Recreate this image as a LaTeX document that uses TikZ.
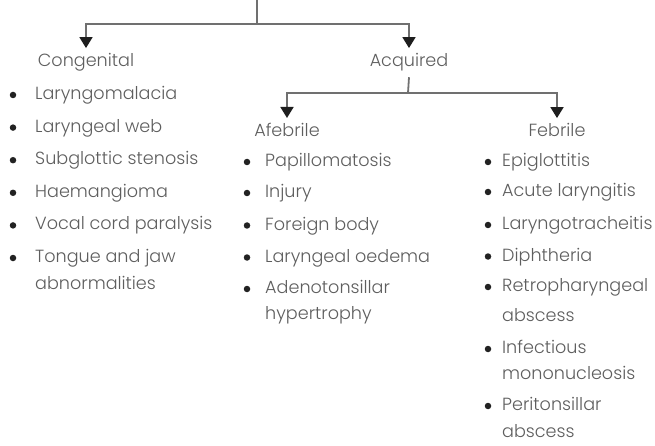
\documentclass[tikz,border=0pt]{standalone}
\usepackage{fontspec}
\setmainfont{Poppins Light}
\usetikzlibrary{arrows.meta}
\definecolor{txt}{HTML}{5E5E5E}
\definecolor{linec}{HTML}{707070}
\definecolor{headc}{HTML}{1E1E1E}
\definecolor{bulc}{HTML}{222222}
\tikzset{
  lbl/.style={inner sep=0pt, text=txt, font=\fontsize{17.6}{20}\selectfont},
  head/.style={lbl, anchor=base},
  entry/.style={lbl, anchor=base west},
  bul/.style={circle, fill=bulc, inner sep=0pt, minimum size=6.5pt},
  conn/.style={draw=linec, line width=1.8pt},
  arr/.style={conn, -{Triangle[width=13pt,length=11pt,color=headc]}, shorten >=5pt}
}
% #1 name, #2 bullet x, #3 text x, #4 x-height centre y, #5 text
\newcommand{\bitem}[5]{%
  \node[bul] (#1b) at (#2,#4) {};
  \node[entry] (#1) at (#3,#4+4.5) {#5};}
\newcommand{\contline}[4]{\node[entry] (#1) at (#2,#3+4.5) {#4};}
\begin{document}
\begin{tikzpicture}[x=1pt,y=-1pt]
\useasboundingbox (0,0) rectangle (655,446);
% headings
\node[head] (cong) at (86,66.5) {Congenital};
\node[head] (acq) at (409,66.5) {Acquired};
\node[head] (afeb) at (287,136.5) {Afebrile};
\node[head] (feb) at (557,136.5) {Febrile};
% connectors
\coordinate (top) at (257,0);
\coordinate (j1) at (257,24);
\coordinate (j2) at (408,93);
\draw[conn] (top) -- (j1);
\draw[arr] (j1) -| (cong.north);
\draw[arr] (j1) -| (acq.north);
\draw[conn] ([yshift=-6pt]acq.south) -- (j2);
\draw[arr] (j2) -| (afeb.north);
\draw[arr] (j2) -| (feb.north);
% congenital list
\bitem{c1}{13}{35}{95}{Laryngomalacia}
\bitem{c2}{13}{35}{127.6}{Laryngeal web}
\bitem{c3}{13}{35}{160.2}{Subglottic stenosis}
\bitem{c4}{13}{35}{192.8}{Haemangioma}
\bitem{c5}{13}{35}{225.4}{Vocal cord paralysis}
\bitem{c6}{13}{35}{258}{Tongue and jaw}
\contline{c6l2}{35}{285}{abnormalities}
% afebrile list
\bitem{a1}{247}{265}{162}{Papillomatosis}
\bitem{a2}{247}{265}{193}{Injury}
\bitem{a3}{247}{265}{225.5}{Foreign body}
\bitem{a4}{247}{265}{257.5}{Laryngeal oedema}
\bitem{a5}{247}{265}{289}{Adenotonsillar}
\contline{a5l2}{265}{315}{hypertrophy}
% febrile list
\bitem{f1}{488}{502}{162}{Epiglottitis}
\bitem{f2}{488}{502}{192}{Acute laryngitis}
\bitem{f3}{488}{502}{225}{Laryngotracheitis}
\bitem{f4}{488}{502}{256.5}{Diphtheria}
\bitem{f5}{488}{502}{287}{Retropharyngeal}
\contline{f5l2}{502}{317}{abscess}
\bitem{f6}{488}{502}{349}{Infectious}
\contline{f6l2}{502}{375}{mononucleosis}
\bitem{f7}{488}{502}{406}{Peritonsillar}
\contline{f7l2}{502}{433}{abscess}
\end{tikzpicture}
\end{document}
